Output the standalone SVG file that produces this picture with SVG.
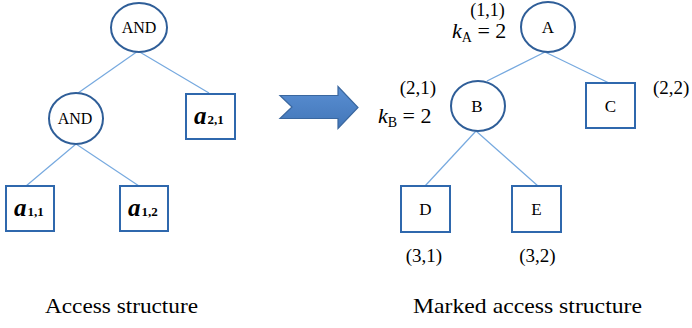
<svg xmlns="http://www.w3.org/2000/svg" width="692" height="328" viewBox="0 0 692 328">
<defs>
<linearGradient id="ag" x1="0" y1="0" x2="0" y2="1">
<stop offset="0" stop-color="#5a8fd3"/>
<stop offset="1" stop-color="#4276b8"/>
</linearGradient>
<style>
.ell{fill:#fff;stroke:#2f5e98;stroke-width:2}
.box{fill:#fff;stroke:#2f68ad;stroke-width:2}
.ln{stroke:#76a9df;stroke-width:1.2;fill:none}
text{font-family:'Liberation Serif','Times New Roman',Times,serif;fill:#000}
.var{font-weight:bold;font-style:italic}
</style>
</defs>
<rect width="692" height="328" fill="#fff"/>
<g id="connectors">
<line class="ln" x1="138" y1="51" x2="78" y2="93"/>
<line class="ln" x1="138" y1="51" x2="209" y2="93"/>
<line class="ln" x1="76" y1="144" x2="26" y2="186"/>
<line class="ln" x1="76" y1="144" x2="139" y2="186"/>
<line class="ln" x1="545" y1="52" x2="487" y2="81"/>
<line class="ln" x1="545" y1="52" x2="609" y2="83"/>
<line class="ln" x1="476" y1="131" x2="425" y2="186"/>
<line class="ln" x1="476" y1="131" x2="538" y2="186"/>
</g>
<g id="and1">
<ellipse class="ell" cx="139" cy="27.5" rx="28" ry="24.5"/>
<text x="139" y="33" font-size="16" text-anchor="middle">AND</text>
</g>
<g id="and2">
<ellipse class="ell" cx="76" cy="118.5" rx="27" ry="25.5"/>
<text x="75" y="124" font-size="16" text-anchor="middle">AND</text>
</g>
<g id="a21">
<rect class="box" x="186" y="94" width="49" height="45"/>
<text class="var" x="194" y="124" font-size="25">a<tspan font-size="13" font-style="normal" dx="1">2,1</tspan></text>
</g>
<g id="a11">
<rect class="box" x="6" y="186" width="48" height="45"/>
<text class="var" x="14" y="216" font-size="25">a<tspan font-size="13" font-style="normal" dx="1">1,1</tspan></text>
</g>
<g id="a12">
<rect class="box" x="120" y="186" width="48" height="45"/>
<text class="var" x="128" y="216" font-size="25">a<tspan font-size="13" font-style="normal" dx="1">1,2</tspan></text>
</g>
<g id="arrow">
<polygon points="280,95.5 338,95.5 338,86.5 358,107.5 338,128.5 338,118.5 280,118.5 292,107" fill="url(#ag)" stroke="#3a679f" stroke-width="1.2"/>
</g>
<g id="A">
<ellipse class="ell" cx="548" cy="27" rx="27" ry="25"/>
<text x="548" y="33" font-size="17" text-anchor="middle">A</text>
</g>
<g id="B">
<ellipse class="ell" cx="478" cy="106" rx="27" ry="25"/>
<text x="477" y="112" font-size="17" text-anchor="middle">B</text>
</g>
<g id="C">
<rect class="box" x="586" y="83" width="49" height="45"/>
<text x="610.5" y="111.5" font-size="17" text-anchor="middle">C</text>
</g>
<g id="D">
<rect class="box" x="401" y="186" width="49" height="46"/>
<text x="425.5" y="215" font-size="17" text-anchor="middle">D</text>
</g>
<g id="E">
<rect class="box" x="512" y="186" width="49" height="46"/>
<text x="536.5" y="215" font-size="17" text-anchor="middle">E</text>
</g>
<g id="labels">
<text x="487.5" y="16" font-size="18" text-anchor="middle">(1,1)</text>
<text x="452" y="38" font-size="22"><tspan font-style="italic">k</tspan><tspan font-size="14" dy="4">A</tspan><tspan dy="-4"> = 2</tspan></text>
<text x="418" y="94" font-size="19" text-anchor="middle">(2,1)</text>
<text x="378" y="123" font-size="22"><tspan font-style="italic">k</tspan><tspan font-size="14" dy="4">B</tspan><tspan dy="-4"> = 2</tspan></text>
<text x="653" y="94" font-size="19">(2,2)</text>
<text x="424" y="262" font-size="19" text-anchor="middle">(3,1)</text>
<text x="537.5" y="262" font-size="19" text-anchor="middle">(3,2)</text>
<text x="45" y="313" font-size="22" textLength="153" lengthAdjust="spacingAndGlyphs">Access structure</text>
<text x="413" y="313" font-size="22" textLength="229" lengthAdjust="spacingAndGlyphs">Marked access structure</text>
</g>
</svg>
